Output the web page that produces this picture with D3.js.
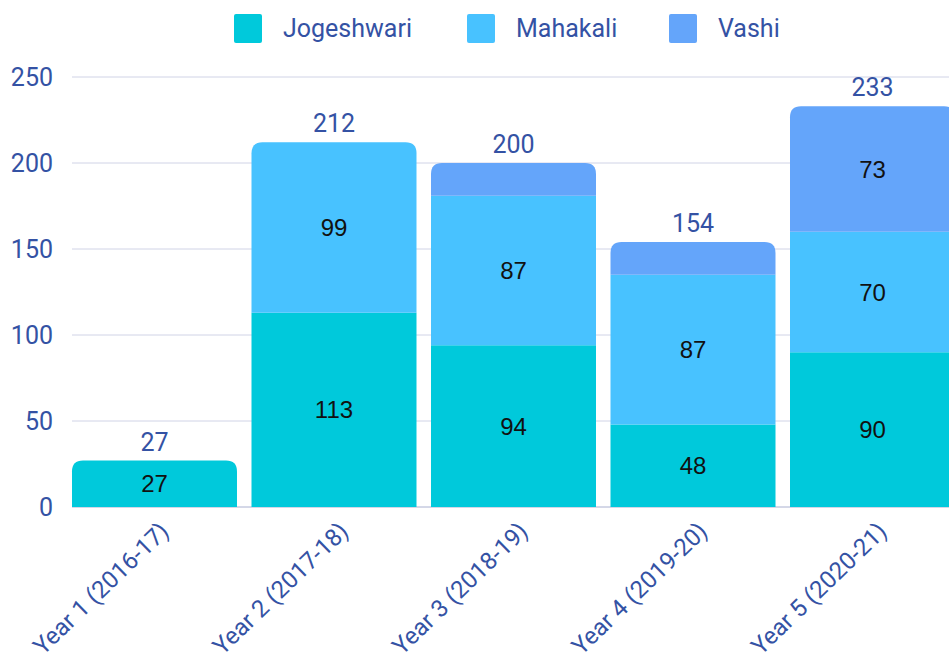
<!DOCTYPE html>
<html>
<head>
<meta charset="utf-8">
<script src="https://cdn.jsdelivr.net/npm/d3@7"></script>
<style>
  body { margin: 0; background: #fff; }
  svg { display: block; }
</style>
</head>
<body>
<svg width="949" height="666"></svg>
<script>
// chart data
var years = [
  "Year 1 (2016-17)",
  "Year 2 (2017-18)",
  "Year 3 (2018-19)",
  "Year 4 (2019-20)",
  "Year 5 (2020-21)",
];
var centres = ["Jogeshwari", "Mahakali", "Vashi"];
var jogeshwari = [27, 113, 94, 48, 90];
var mahakali = [0, 99, 87, 87, 70];
var vashi = [0, 0, 19, 19, 73];
var yTicks = [0, 50, 100, 150, 200, 250];

var colors = ["#00C9DB", "#48C2FF", "#64A5FA"];
var blue = "#3452A4";
var plexFont = "Roboto, 'Noto Sans', sans-serif";

var svg = d3.select("svg");
const margin = { top: 77, left: 72, bottom: 159 };
const height = 666;

// build rows for the stack
var rows = years.map(function (y, i) {
  return {
    year: y,
    Jogeshwari: jogeshwari[i],
    Mahakali: mahakali[i],
    Vashi: vashi[i],
  };
});
var stacked = d3.stack().keys(centres)(rows);

var xScale = d3
  .scaleBand()
  .domain(years)
  .range([64.75, 962.25])
  .paddingInner(0.0808)
  .paddingOuter(0.0404);

var yScale = d3
  .scaleLinear()
  .domain([0, 250])
  .range([height - margin.bottom, margin.top]);

//Gridlines
svg
  .append("g")
  .selectAll("line")
  .data(yTicks)
  .join("line")
  .attr("x1", margin.left)
  .attr("x2", 949)
  .attr("y1", (d) => yScale(d))
  .attr("y2", (d) => yScale(d))
  .attr("stroke", (d) => (d === 0 ? "#A9B0D0" : "#D0D3E6"))
  .attr("stroke-width", 1);

//Y tick labels
svg
  .append("g")
  .selectAll("text")
  .data(yTicks)
  .join("text")
  .attr("x", 53)
  .attr("y", (d) => yScale(d))
  .attr("dy", "0.35em")
  .attr("text-anchor", "end")
  .style("font-family", plexFont)
  .style("font-size", "25px")
  .style("fill", blue)
  .text((d) => d);

// path for a bar segment, rounding only the top corners
function segPath(x, w, y0, y1, r) {
  if (r <= 0) return `M${x},${y1}V${y0}H${x + w}V${y1}Z`;
  return (
    `M${x},${y1}V${y0 + r}Q${x},${y0} ${x + r},${y0}` +
    `H${x + w - r}Q${x + w},${y0} ${x + w},${y0 + r}V${y1}Z`
  );
}

// index of the top non-empty layer for each year
var topLayer = years.map(function (y, i) {
  var top = 0;
  stacked.forEach(function (layer, k) {
    if (layer[i][1] - layer[i][0] > 0) top = k;
  });
  return top;
});

stacked.forEach(function (layer, k) {
  var g = svg.append("g").attr("class", "layer-" + k);
  var segs = layer
    .map((d, i) => ({ d: d, i: i }))
    .filter((s) => s.d[1] - s.d[0] > 0);

  g.selectAll("path")
    .data(segs)
    .join("path")
    .attr("d", function (s) {
      var x = xScale(years[s.i]);
      return segPath(
        x,
        xScale.bandwidth(),
        yScale(s.d[1]),
        yScale(s.d[0]),
        topLayer[s.i] === k ? 11 : 0
      );
    })
    .attr("fill", colors[k]);

  // labels inside the segments (small ones are hidden)
  g.selectAll("text")
    .data(segs.filter((s) => s.d[1] - s.d[0] >= 25))
    .join("text")
    .attr("x", (s) => xScale(years[s.i]) + xScale.bandwidth() / 2)
    .attr("y", (s) => yScale((s.d[0] + s.d[1]) / 2))
    .attr("dy", "0.36em")
    .attr("text-anchor", "middle")
    .style("font-family", "'Liberation Sans', Arial, sans-serif")
    .style("font-size", "24px")
    .style("fill", "#111")
    .text((s) => s.d[1] - s.d[0]);
});

//Totals above bars
var totals = years.map((y, i) => jogeshwari[i] + mahakali[i] + vashi[i]);
svg
  .append("g")
  .selectAll("text")
  .data(totals)
  .join("text")
  .attr("x", (d, i) => xScale(years[i]) + xScale.bandwidth() / 2)
  .attr("y", (d) => yScale(d) - 10)
  .attr("text-anchor", "middle")
  .style("font-family", plexFont)
  .style("font-size", "25px")
  .style("fill", blue)
  .text((d) => d);

//X labels, rotated
svg
  .append("g")
  .selectAll("text")
  .data(years)
  .join("text")
  .attr("transform", function (d) {
    var cx = xScale(d) + xScale.bandwidth() / 2 + 10;
    return `translate(${cx},${yScale(0) + 20}) rotate(-44)`;
  })
  .attr("text-anchor", "end")
  .attr("dy", "0.35em")
  .style("font-family", plexFont)
  .style("font-size", "24px")
  .style("fill", blue)
  .text((d) => d);

//Legend
var legendX = [234, 467, 669];
var legend = svg.append("g").attr("class", "legend");
legend
  .selectAll("rect")
  .data(centres)
  .join("rect")
  .attr("x", (d, i) => legendX[i])
  .attr("y", 14)
  .attr("width", 28)
  .attr("height", 29)
  .attr("rx", 2)
  .attr("fill", (d, i) => colors[i]);
legend
  .selectAll("text")
  .data(centres)
  .join("text")
  .attr("x", (d, i) => legendX[i] + 49)
  .attr("y", 28.5)
  .attr("dy", "0.35em")
  .style("font-family", plexFont)
  .style("font-size", "25px")
  .style("fill", blue)
  .text((d) => d);
</script>
</body>
</html>
